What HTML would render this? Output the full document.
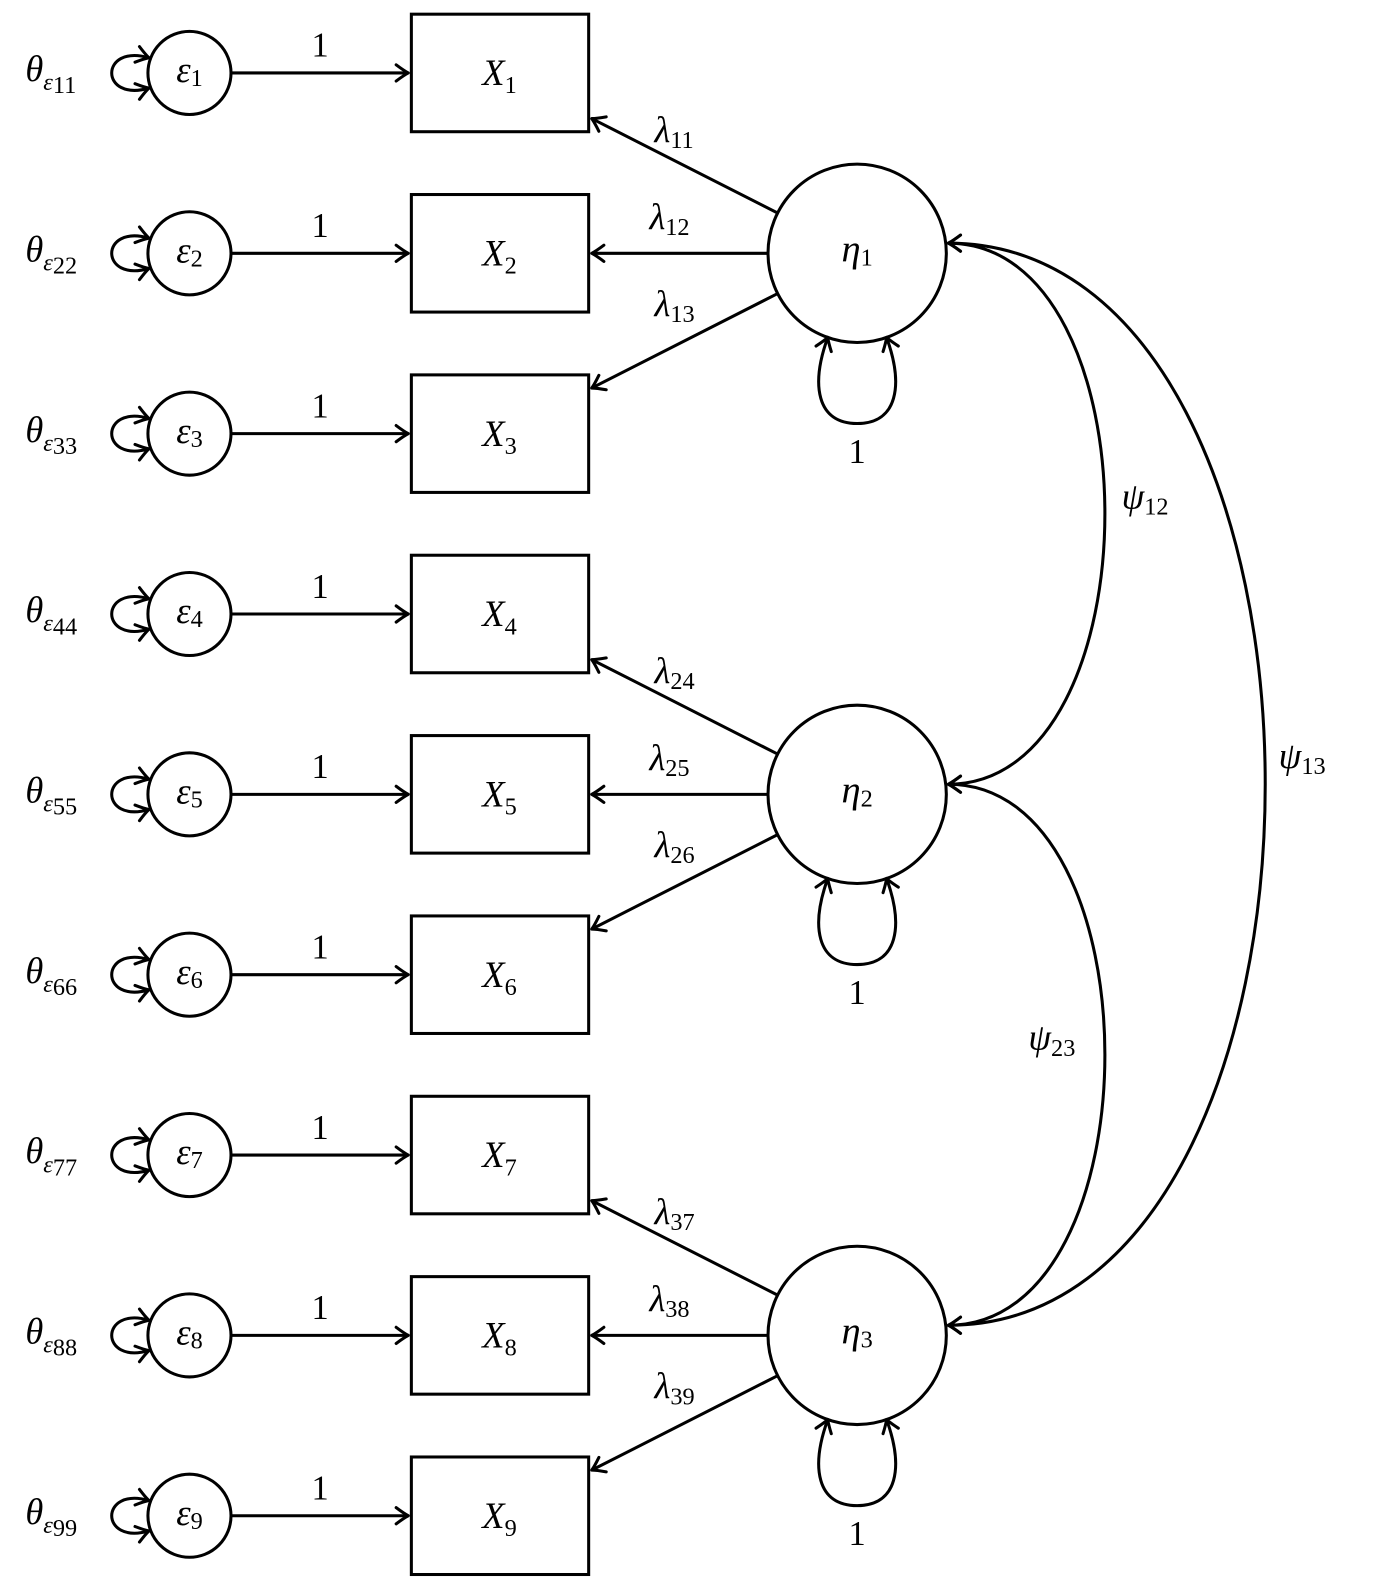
<!DOCTYPE html>
<html><head><meta charset="utf-8"><style>
html,body{margin:0;padding:0;background:#fff;}
svg{display:block;}
text{font-family:"Liberation Serif",serif;fill:#000;}
.m{font-style:italic;font-size:36px;}
.s{font-style:normal;font-size:24px;}
.n{font-size:34px;}
</style></head><body>
<svg width="1382" height="1589" viewBox="0 0 1382 1589" xmlns="http://www.w3.org/2000/svg">
<defs>
<marker id="a" markerUnits="userSpaceOnUse" markerWidth="30" markerHeight="30" refX="0" refY="0" viewBox="-15 -15 30 30" orient="auto-start-reverse">
<path d="M-12,-8 Q-4,-2 0,0 Q-4,2 -12,8" fill="none" stroke="#000" stroke-width="3" stroke-linecap="round" stroke-linejoin="round"/>
</marker>
</defs>
<g transform="scale(1.0132)">
<g fill="none" stroke="#000" stroke-width="3">
<rect x="406" y="14" width="175" height="116"/>
<rect x="406" y="192" width="175" height="116"/>
<rect x="406" y="370" width="175" height="116"/>
<rect x="406" y="548" width="175" height="116"/>
<rect x="406" y="726" width="175" height="116"/>
<rect x="406" y="904" width="175" height="116"/>
<rect x="406" y="1082" width="175" height="116"/>
<rect x="406" y="1260" width="175" height="116"/>
<rect x="406" y="1438" width="175" height="116"/>
<circle cx="187" cy="72" r="41"/><circle cx="187" cy="250" r="41"/><circle cx="187" cy="428" r="41"/>
<circle cx="187" cy="606" r="41"/><circle cx="187" cy="784" r="41"/><circle cx="187" cy="962" r="41"/>
<circle cx="187" cy="1140" r="41"/><circle cx="187" cy="1318" r="41"/><circle cx="187" cy="1496" r="41"/>
<circle cx="846" cy="250" r="88"/><circle cx="846" cy="784" r="88"/><circle cx="846" cy="1318" r="88"/>
</g>
<g fill="none" stroke="#000" stroke-width="3" marker-end="url(#a)">
<path d="M228,72 H403"/><path d="M228,250 H403"/><path d="M228,428 H403"/>
<path d="M228,606 H403"/><path d="M228,784 H403"/><path d="M228,962 H403"/>
<path d="M228,1140 H403"/><path d="M228,1318 H403"/><path d="M228,1496 H403"/>
<path d="M767,210 L584,117"/><path d="M758,250 L584,250"/><path d="M767,290 L584,383"/>
<path d="M767,744 L584,651"/><path d="M758,784 L584,784"/><path d="M767,824 L584,917"/>
<path d="M767,1278 L584,1185"/><path d="M758,1318 L584,1318"/><path d="M767,1358 L584,1451"/>
</g>
<g fill="none" stroke="#000" stroke-width="3" marker-start="url(#a)" marker-end="url(#a)">
<path d="M147,57 C98,43 98,101 147,87"/><path d="M147,235 C98,221 98,279 147,265"/><path d="M147,413 C98,399 98,457 147,443"/>
<path d="M147,591 C98,577 98,635 147,621"/><path d="M147,769 C98,755 98,813 147,799"/><path d="M147,947 C98,933 98,991 147,977"/>
<path d="M147,1125 C98,1111 98,1169 147,1155"/><path d="M147,1303 C98,1289 98,1347 147,1333"/><path d="M147,1481 C98,1467 98,1525 147,1511"/>
<path d="M817,333 C800,380 806,418 846,418 C886,418 892,380 875,333"/>
<path d="M817,867 C800,914 806,952 846,952 C886,952 892,914 875,867"/>
<path d="M817,1401 C800,1448 806,1486 846,1486 C886,1486 892,1448 875,1401"/>
<path d="M936,240 C1142,240 1142,774 936,774"/>
<path d="M936,774 C1142,774 1142,1308 936,1308"/>
<path d="M936,240 C1353,240 1353,1308 936,1308"/>
</g>
<g class="m" text-anchor="middle">
<text x="493" y="84">X<tspan class="s" dy="8">1</tspan></text>
<text x="493" y="262">X<tspan class="s" dy="8">2</tspan></text>
<text x="493" y="440">X<tspan class="s" dy="8">3</tspan></text>
<text x="493" y="618">X<tspan class="s" dy="8">4</tspan></text>
<text x="493" y="796">X<tspan class="s" dy="8">5</tspan></text>
<text x="493" y="974">X<tspan class="s" dy="8">6</tspan></text>
<text x="493" y="1152">X<tspan class="s" dy="8">7</tspan></text>
<text x="493" y="1330">X<tspan class="s" dy="8">8</tspan></text>
<text x="493" y="1508">X<tspan class="s" dy="8">9</tspan></text>
<text x="187" y="81" font-size="36">ε<tspan class="s" dy="4">1</tspan></text>
<text x="187" y="259" font-size="36">ε<tspan class="s" dy="4">2</tspan></text>
<text x="187" y="437" font-size="36">ε<tspan class="s" dy="4">3</tspan></text>
<text x="187" y="615" font-size="36">ε<tspan class="s" dy="4">4</tspan></text>
<text x="187" y="793" font-size="36">ε<tspan class="s" dy="4">5</tspan></text>
<text x="187" y="971" font-size="36">ε<tspan class="s" dy="4">6</tspan></text>
<text x="187" y="1149" font-size="36">ε<tspan class="s" dy="4">7</tspan></text>
<text x="187" y="1327" font-size="36">ε<tspan class="s" dy="4">8</tspan></text>
<text x="187" y="1505" font-size="36">ε<tspan class="s" dy="4">9</tspan></text>
<text x="846" y="258" font-size="38">η<tspan class="s" dy="4">1</tspan></text>
<text x="846" y="792" font-size="38">η<tspan class="s" dy="4">2</tspan></text>
<text x="846" y="1326" font-size="38">η<tspan class="s" dy="4">3</tspan></text>
</g>
<g class="m" text-anchor="start" font-size="34">
<text x="25" y="80">θ<tspan font-size="24" dy="9">ε</tspan><tspan class="s" font-size="19" dy="3">11</tspan></text>
<text x="25" y="258">θ<tspan font-size="24" dy="9">ε</tspan><tspan class="s" font-size="19" dy="3">22</tspan></text>
<text x="25" y="436">θ<tspan font-size="24" dy="9">ε</tspan><tspan class="s" font-size="19" dy="3">33</tspan></text>
<text x="25" y="614">θ<tspan font-size="24" dy="9">ε</tspan><tspan class="s" font-size="19" dy="3">44</tspan></text>
<text x="25" y="792">θ<tspan font-size="24" dy="9">ε</tspan><tspan class="s" font-size="19" dy="3">55</tspan></text>
<text x="25" y="970">θ<tspan font-size="24" dy="9">ε</tspan><tspan class="s" font-size="19" dy="3">66</tspan></text>
<text x="25" y="1148">θ<tspan font-size="24" dy="9">ε</tspan><tspan class="s" font-size="19" dy="3">77</tspan></text>
<text x="25" y="1326">θ<tspan font-size="24" dy="9">ε</tspan><tspan class="s" font-size="19" dy="3">88</tspan></text>
<text x="25" y="1504">θ<tspan font-size="24" dy="9">ε</tspan><tspan class="s" font-size="19" dy="3">99</tspan></text>
<text x="646" y="140">λ<tspan class="s" dy="6">11</tspan></text>
<text x="641" y="226">λ<tspan class="s" dy="6">12</tspan></text>
<text x="646" y="312">λ<tspan class="s" dy="6">13</tspan></text>
<text x="646" y="674">λ<tspan class="s" dy="6">24</tspan></text>
<text x="641" y="760">λ<tspan class="s" dy="6">25</tspan></text>
<text x="646" y="846">λ<tspan class="s" dy="6">26</tspan></text>
<text x="646" y="1208">λ<tspan class="s" dy="6">37</tspan></text>
<text x="641" y="1294">λ<tspan class="s" dy="6">38</tspan></text>
<text x="646" y="1380">λ<tspan class="s" dy="6">39</tspan></text>
<text x="1107" y="502">ψ<tspan class="s" dy="6">12</tspan></text>
<text x="1262" y="758">ψ<tspan class="s" dy="6">13</tspan></text>
<text x="1015" y="1036">ψ<tspan class="s" dy="6">23</tspan></text>
</g>
<g class="n" text-anchor="middle">
<text x="316" y="56">1</text><text x="316" y="234">1</text><text x="316" y="412">1</text>
<text x="316" y="590">1</text><text x="316" y="768">1</text><text x="316" y="946">1</text>
<text x="316" y="1124">1</text><text x="316" y="1302">1</text><text x="316" y="1480">1</text>
<text x="846" y="457">1</text><text x="846" y="991">1</text><text x="846" y="1525">1</text>
</g>
</g>
</svg>
</body></html>
